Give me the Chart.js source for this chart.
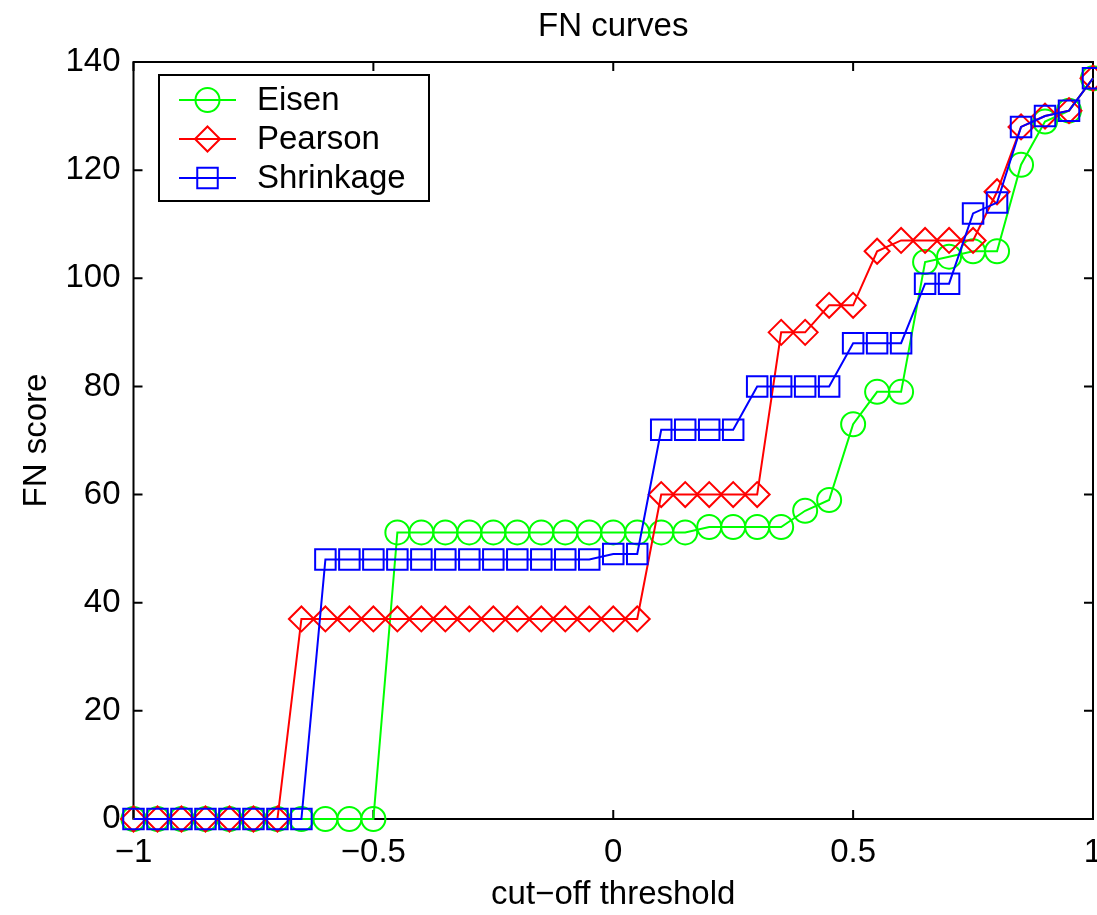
<!DOCTYPE html>
<html>
<head>
<meta charset="utf-8">
<script src="https://cdn.jsdelivr.net/npm/chart.js@4.4.0/dist/chart.umd.min.js"></script>
<style>
  html, body { margin: 0; padding: 0; background: #fff; }
  #wrap { width: 1097px; height: 915px; }
</style>
</head>
<body>
<div id="wrap"><canvas id="fnChart" width="1097" height="915"></canvas></div>
<script>
// cut-off thresholds (x)
var thresholds = [-1, -0.95, -0.9, -0.85, -0.8, -0.75, -0.7, -0.65, -0.6, -0.55,
  -0.5, -0.45, -0.4, -0.35, -0.3, -0.25, -0.2, -0.15, -0.1, -0.05,
  0, 0.05, 0.1, 0.15, 0.2, 0.25, 0.3, 0.35, 0.4, 0.45,
  0.5, 0.55, 0.6, 0.65, 0.7, 0.75, 0.8, 0.85, 0.9, 0.95, 1];

// FN scores
var eisen = [0, 0, 0, 0, 0, 0, 0, 0, 0, 0,
  0, 53, 53, 53, 53, 53, 53, 53, 53, 53,
  53, 53, 53, 53, 54, 54, 54, 54, 57, 59,
  73, 79, 79, 103, 104, 105, 105, 121, 129, 131, 137];
var pearson = [0, 0, 0, 0, 0, 0, 0, 37, 37, 37,
  37, 37, 37, 37, 37, 37, 37, 37, 37, 37,
  37, 37, 60, 60, 60, 60, 60, 90, 90, 95,
  95, 105, 107, 107, 107, 107, 116, 128, 130, 131, 137];
var shrinkage = [0, 0, 0, 0, 0, 0, 0, 0, 48, 48,
  48, 48, 48, 48, 48, 48, 48, 48, 48, 48,
  49, 49, 72, 72, 72, 72, 80, 80, 80, 80,
  88, 88, 88, 99, 99, 112, 114, 128, 130, 131, 137];

var xTickValues = [-1, -0.5, 0, 0.5, 1];
var xTickLabels = ['\u22121', '\u22120.5', '0', '0.5', '1'];
var yTickValues = [0, 20, 40, 60, 80, 100, 120, 140];
var yTickLabels = ['0', '20', '40', '60', '80', '100', '120', '140'];

var FONT = '"Liberation Sans", Arial, Helvetica, sans-serif';
var FSIZE = 33;

function pts(ys) {
  return thresholds.map(function(x, i) { return { x: x, y: ys[i] }; });
}

// 坐标框 + 朝内的刻度
var boxPlugin = {
  id: 'matlabBox',
  beforeDatasetsDraw: function(chart) {
    var ctx = chart.ctx, a = chart.chartArea;
    var xs = chart.scales.x, ys = chart.scales.y;
    var tl = 9;
    ctx.save();
    ctx.strokeStyle = '#000';
    ctx.lineWidth = 2;
    ctx.strokeRect(a.left, a.top, a.right - a.left, a.bottom - a.top);
    ctx.beginPath();
    xTickValues.forEach(function(v) {
      var px = xs.getPixelForValue(v);
      ctx.moveTo(px, a.bottom); ctx.lineTo(px, a.bottom - tl);
      ctx.moveTo(px, a.top); ctx.lineTo(px, a.top + tl);
    });
    yTickValues.forEach(function(v) {
      var py = ys.getPixelForValue(v);
      ctx.moveTo(a.left, py); ctx.lineTo(a.left + tl, py);
      ctx.moveTo(a.right, py); ctx.lineTo(a.right - tl, py);
    });
    ctx.stroke();
    ctx.restore();
  },
  afterDraw: function(chart) {
    var ctx = chart.ctx, a = chart.chartArea;
    ctx.save();
    // title
    ctx.fillStyle = '#000';
    ctx.font = FSIZE + 'px ' + FONT;
    ctx.textAlign = 'center';
    ctx.textBaseline = 'middle';
    ctx.fillText('FN curves', (a.left + a.right) / 2, 27);

    // legend
    var bx = 159, by = 75, bw = 270, bh = 126;
    ctx.fillStyle = '#fff';
    ctx.fillRect(bx, by, bw, bh);
    ctx.strokeStyle = '#000';
    ctx.lineWidth = 2;
    ctx.strokeRect(bx, by, bw, bh);
    var rows = [100, 139, 178];
    chart.data.datasets.forEach(function(ds, i) {
      var cy = rows[i];
      ctx.strokeStyle = ds.borderColor;
      ctx.lineWidth = 2;
      ctx.beginPath();
      ctx.moveTo(179, cy); ctx.lineTo(236, cy);
      ctx.stroke();
      var cx = 207.5, r = ds.pointRadius;
      ctx.beginPath();
      if (ds.pointStyle === 'circle') {
        ctx.arc(cx, cy, r, 0, Math.PI * 2);
      } else if (ds.pointStyle === 'rectRot') {
        ctx.moveTo(cx, cy - r); ctx.lineTo(cx + r, cy);
        ctx.lineTo(cx, cy + r); ctx.lineTo(cx - r, cy); ctx.closePath();
      } else {
        var h = r * Math.SQRT1_2;
        ctx.rect(cx - h, cy - h, 2 * h, 2 * h);
      }
      ctx.stroke();
      ctx.fillStyle = '#000';
      ctx.textAlign = 'left';
      ctx.fillText(ds.label, 257, cy + 1);
    });
    ctx.restore();
  }
};

var ctx = document.getElementById('fnChart').getContext('2d');
var fnChart = new Chart(ctx, {
  type: 'line',
  data: {
    datasets: [{
      label: 'Eisen',
      data: pts(eisen),
      borderColor: '#00ff00',
      borderWidth: 2,
      pointStyle: 'circle',
      pointRadius: 12,
      pointBorderWidth: 2,
      pointBorderColor: '#00ff00',
      pointBackgroundColor: 'rgba(0,0,0,0)',
      fill: false,
      tension: 0,
      clip: false,
      order: 3
    }, {
      label: 'Pearson',
      data: pts(pearson),
      borderColor: '#ff0000',
      borderWidth: 2,
      pointStyle: 'rectRot',
      pointRadius: 12.5,
      pointBorderWidth: 2,
      pointBorderColor: '#ff0000',
      pointBackgroundColor: 'rgba(0,0,0,0)',
      fill: false,
      tension: 0,
      clip: false,
      order: 2
    }, {
      label: 'Shrinkage',
      data: pts(shrinkage),
      borderColor: '#0000ff',
      borderWidth: 2,
      pointStyle: 'rect',
      pointRadius: 14.5,
      pointBorderWidth: 2,
      pointBorderColor: '#0000ff',
      pointBackgroundColor: 'rgba(0,0,0,0)',
      fill: false,
      tension: 0,
      clip: false,
      order: 1
    }]
  },
  options: {
    responsive: false,
    animation: false,
    events: [],
    layout: { autoPadding: false, padding: { top: 62, right: 4, left: 0, bottom: 0 } },
    plugins: {
      legend: { display: false },
      title: { display: false },
      tooltip: { enabled: false }
    },
    scales: {
      x: {
        type: 'linear',
        min: -1,
        max: 1,
        afterBuildTicks: function(s) { s.ticks = xTickValues.map(function(v) { return { value: v }; }); },
        afterFit: function(s) { s.height = 96; s.paddingLeft = 0; s.paddingRight = 0; },
        grid: { display: false, drawTicks: false },
        border: { display: false },
        ticks: {
          autoSkip: false,
          maxRotation: 0,
          padding: 14,
          color: '#000',
          font: { family: FONT, size: FSIZE },
          callback: function(v) { return xTickLabels[xTickValues.indexOf(v)]; }
        },
        title: {
          display: true,
          text: 'cut\u2212off threshold',
          color: '#000',
          font: { family: FONT, size: FSIZE },
          padding: { top: 0, bottom: 0 }
        }
      },
      y: {
        min: 0,
        max: 140,
        afterBuildTicks: function(s) { s.ticks = yTickValues.map(function(v) { return { value: v }; }); },
        afterFit: function(s) { s.width = 133.5; s.paddingTop = 0; s.paddingBottom = 0; },
        grid: { display: false, drawTicks: false },
        border: { display: false },
        ticks: {
          autoSkip: false,
          padding: 13,
          color: '#000',
          font: { family: FONT, size: FSIZE },
          callback: function(v) { return yTickLabels[yTickValues.indexOf(v)]; }
        },
        title: {
          display: true,
          text: 'FN score',
          color: '#000',
          font: { family: FONT, size: FSIZE },
          padding: { top: 17, bottom: 0 }
        }
      }
    }
  },
  plugins: [boxPlugin]
});
</script>
</body>
</html>
